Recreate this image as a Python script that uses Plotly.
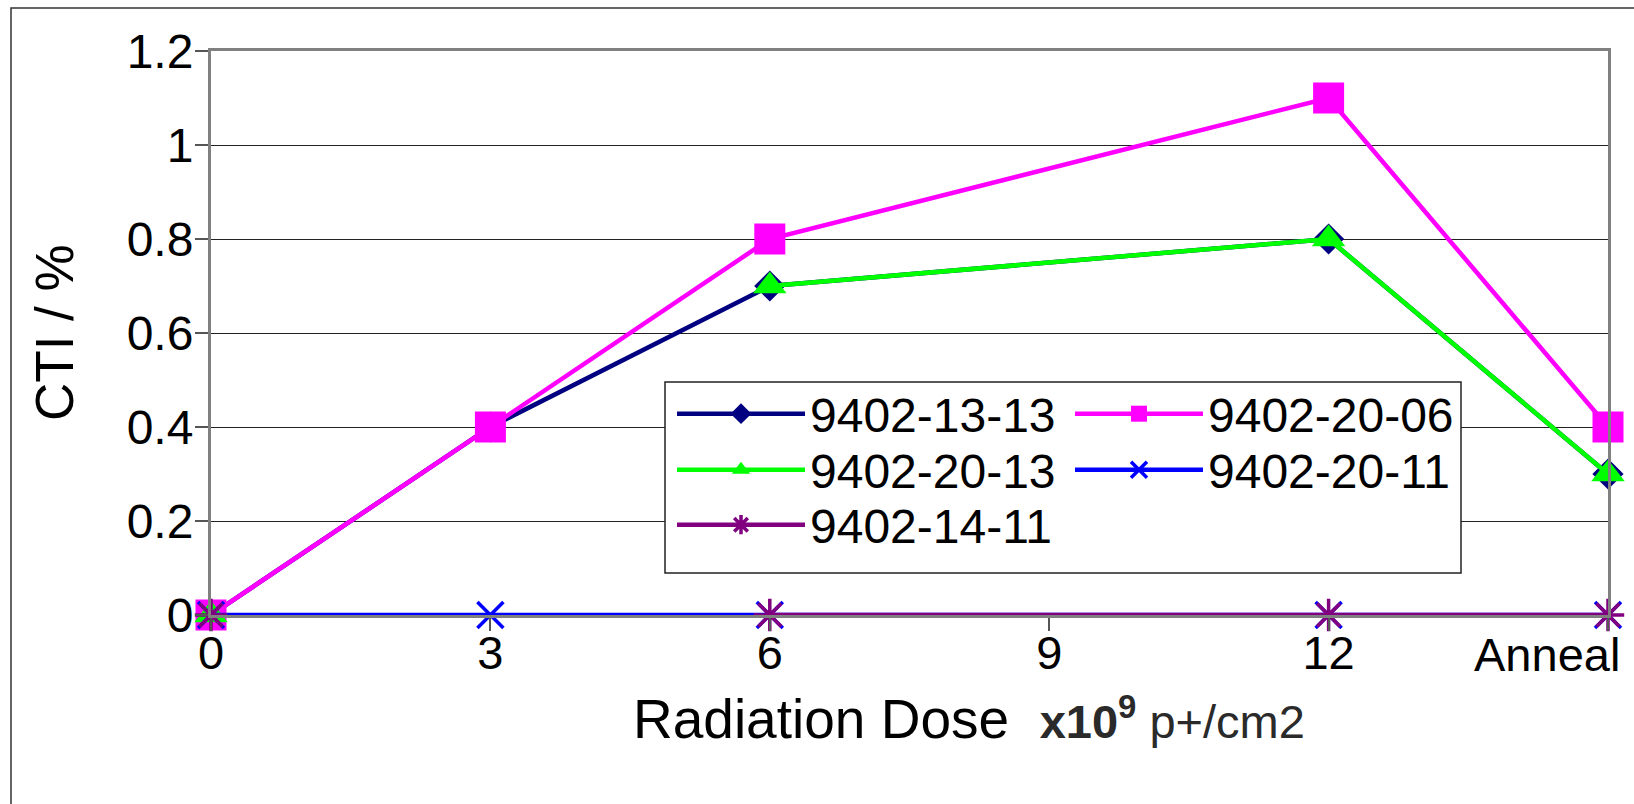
import plotly.graph_objects as go

# Dose steps (x10^9 p+/cm2); the anneal step sits one interval after 12
dose = [0, 3, 6, 12, 15]
tick_vals = [0, 3, 6, 9, 12, 15]
tick_text = ["0", "3", "6", "9", "12", ""]
anneal_x = 15
anneal_label = "Anneal"

# CTI (%) per device; None marks a missing reading
cti_13_13 = [0, 0.4, 0.7, 0.8, 0.3]
cti_20_06 = [0, 0.4, 0.8, 1.1, 0.4]
cti_20_13 = [0, None, 0.7, 0.8, 0.3]
cti_20_11 = [0, 0, 0, 0, 0]
cti_14_11 = [0, None, 0, 0, 0]

FONT = "Liberation Sans, Arial, sans-serif"

W, H = 1634, 804
L, R, T, B = 211, 26, 51, 189
pw, ph = W - L - R, H - T - B


def px(xp):
    return (xp - L) / pw


def py(yp):
    return (H - B - yp) / ph


# name, values, colour, symbol, size, legend id, legend left (px), row centre (px)
series = [
    ("9402-13-13", cti_13_13, "#000080", "diamond", 24, "legend", 672, 414),
    ("9402-20-06", cti_20_06, "#FF00FF", "square", 31, "legend2", 1070, 414),
    ("9402-20-13", cti_20_13, "#00FF00", "triangle-up", 29, "legend3", 672, 470),
    ("9402-20-11", cti_20_11, "#0000FF", "x-thin-open", 26, "legend4", 1070, 470),
    ("9402-14-11", cti_14_11, "#800080", "asterisk-open", 27, "legend5", 672, 525),
]

fig = go.Figure()
legends = {}
for name, vals, color, symbol, size, leg, lx, ly in series:
    open_sym = symbol.endswith("open")
    fig.add_trace(go.Scatter(
        x=dose, y=vals, name=name, mode="lines+markers",
        connectgaps=False, legend=leg, cliponaxis=False,
        line=dict(color=color, width=4.5),
        marker=dict(symbol=symbol, size=size, color=color,
                    line=dict(color=color, width=3.5 if open_sym else 0)),
    ))
    legends[leg] = dict(
        x=px(lx), y=py(ly), xanchor="left", yanchor="middle",
        orientation="v", bgcolor="rgba(0,0,0,0)", borderwidth=0,
        itemwidth=128, font=dict(size=48, family=FONT, color="black"),
    )

fig.update_layout(
    width=W, height=H,
    margin=dict(l=L, r=R, t=T, b=B, pad=0, autoexpand=False),
    paper_bgcolor="white", plot_bgcolor="white",
    font=dict(family=FONT, color="black"),
    showlegend=True,
    **legends,
    xaxis=dict(
        range=[0, 15], tickmode="array", tickvals=tick_vals, ticktext=tick_text,
        automargin=False,
        showgrid=False, zeroline=False,
        showline=True, linecolor="#808080", linewidth=3, mirror=True,
        ticks="outside", ticklen=13, tickwidth=1.5, tickcolor="#555555",
        tickfont=dict(size=47, family=FONT, color="black"),
        ticklabelstandoff=-18,
    ),
    yaxis=dict(
        range=[0, 1.2], tick0=0, dtick=0.2,
        automargin=False,
        showgrid=True, gridcolor="#222222", gridwidth=1.2, zeroline=False,
        showline=True, linecolor="#808080", linewidth=3, mirror=True,
        ticks="outside", ticklen=13, tickwidth=1.5, tickcolor="#555555",
        tickfont=dict(size=48, family=FONT, color="black"),
        ticklabelstandoff=-8,
    ),
    shapes=[
        # outer chart frame
        dict(type="rect", xref="paper", yref="paper",
             x0=px(11), x1=px(W + 20), y0=py(H + 20), y1=py(8),
             line=dict(color="#333333", width=1.5), fillcolor="rgba(0,0,0,0)",
             layer="below"),
        # legend box
        dict(type="rect", xref="paper", yref="paper",
             x0=px(665), x1=px(1461), y0=py(573), y1=py(382),
             line=dict(color="#222222", width=1.5), fillcolor="white",
             layer="above"),
    ],
    annotations=[
        # last category label, kept inside the chart's right edge
        dict(text=anneal_label, xref="x", yref="paper",
             x=anneal_x, y=py(654), xanchor="right", yanchor="middle",
             xshift=14, showarrow=False,
             font=dict(size=47, family=FONT, color="black")),
        dict(text="CTI / %", xref="paper", yref="paper",
             x=px(54), y=0.5, xanchor="center", yanchor="middle",
             textangle=-90, showarrow=False,
             font=dict(size=53, family=FONT, color="black")),
        dict(text="Radiation Dose&nbsp; <span style='font-size:47px;color:#2a2a2a'><b>x10<sup>9</sup></b> p+/cm2</span>",
             xref="paper", yref="paper",
             x=px(969), y=py(719), xanchor="center", yanchor="middle",
             showarrow=False,
             font=dict(size=55, family=FONT, color="black")),
    ],
)

fig.write_html("out.html")
